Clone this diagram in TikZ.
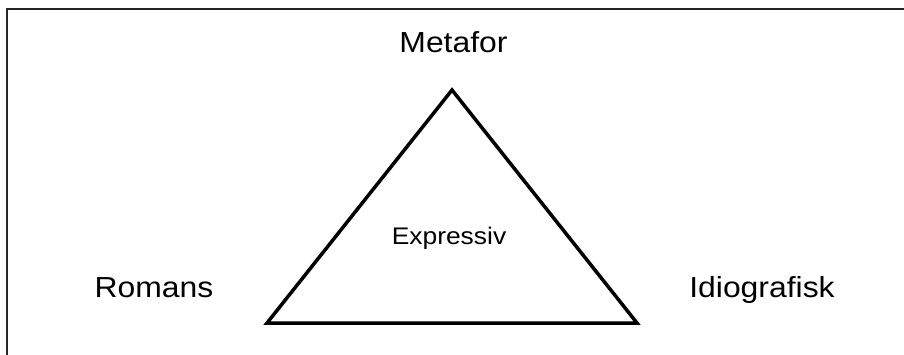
\documentclass[tikz,border=0pt]{standalone}
\usepackage{fontspec}
\setmainfont{Liberation Sans}
\newcommand{\lbl}[1]{\scalebox{1.1}[1]{\fontsize{29}{33}\selectfont #1}}
\newcommand{\smlbl}[1]{\scalebox{1.1}[1]{\fontsize{24}{28}\selectfont #1}}
\begin{document}
\begin{tikzpicture}[x=1pt,y=-1pt,
  frame/.style={line width=2pt, black!85},
  tri/.style={line width=3.5pt, line join=miter, black},
  txt/.style={anchor=base, inner sep=0pt}]
\useasboundingbox (0,0) rectangle (904,355);
\draw[frame] (7,355) -- (7,9) -- (904,9);
\coordinate (top) at (452,90);
\coordinate (bl) at (267,323);
\coordinate (br) at (637,323);
\draw[tri] (top) -- (br) -- (bl) -- cycle;
\node[txt] (metafor) at (453.5,53) {\lbl{Metafor}};
\node[txt] (romans) at (154,297) {\lbl{Romans}};
\node[txt] (idio) at (762,297) {\lbl{Idiografisk}};
\node[txt] (expr) at (449,244) {\smlbl{Expressiv}};
\end{tikzpicture}
\end{document}
